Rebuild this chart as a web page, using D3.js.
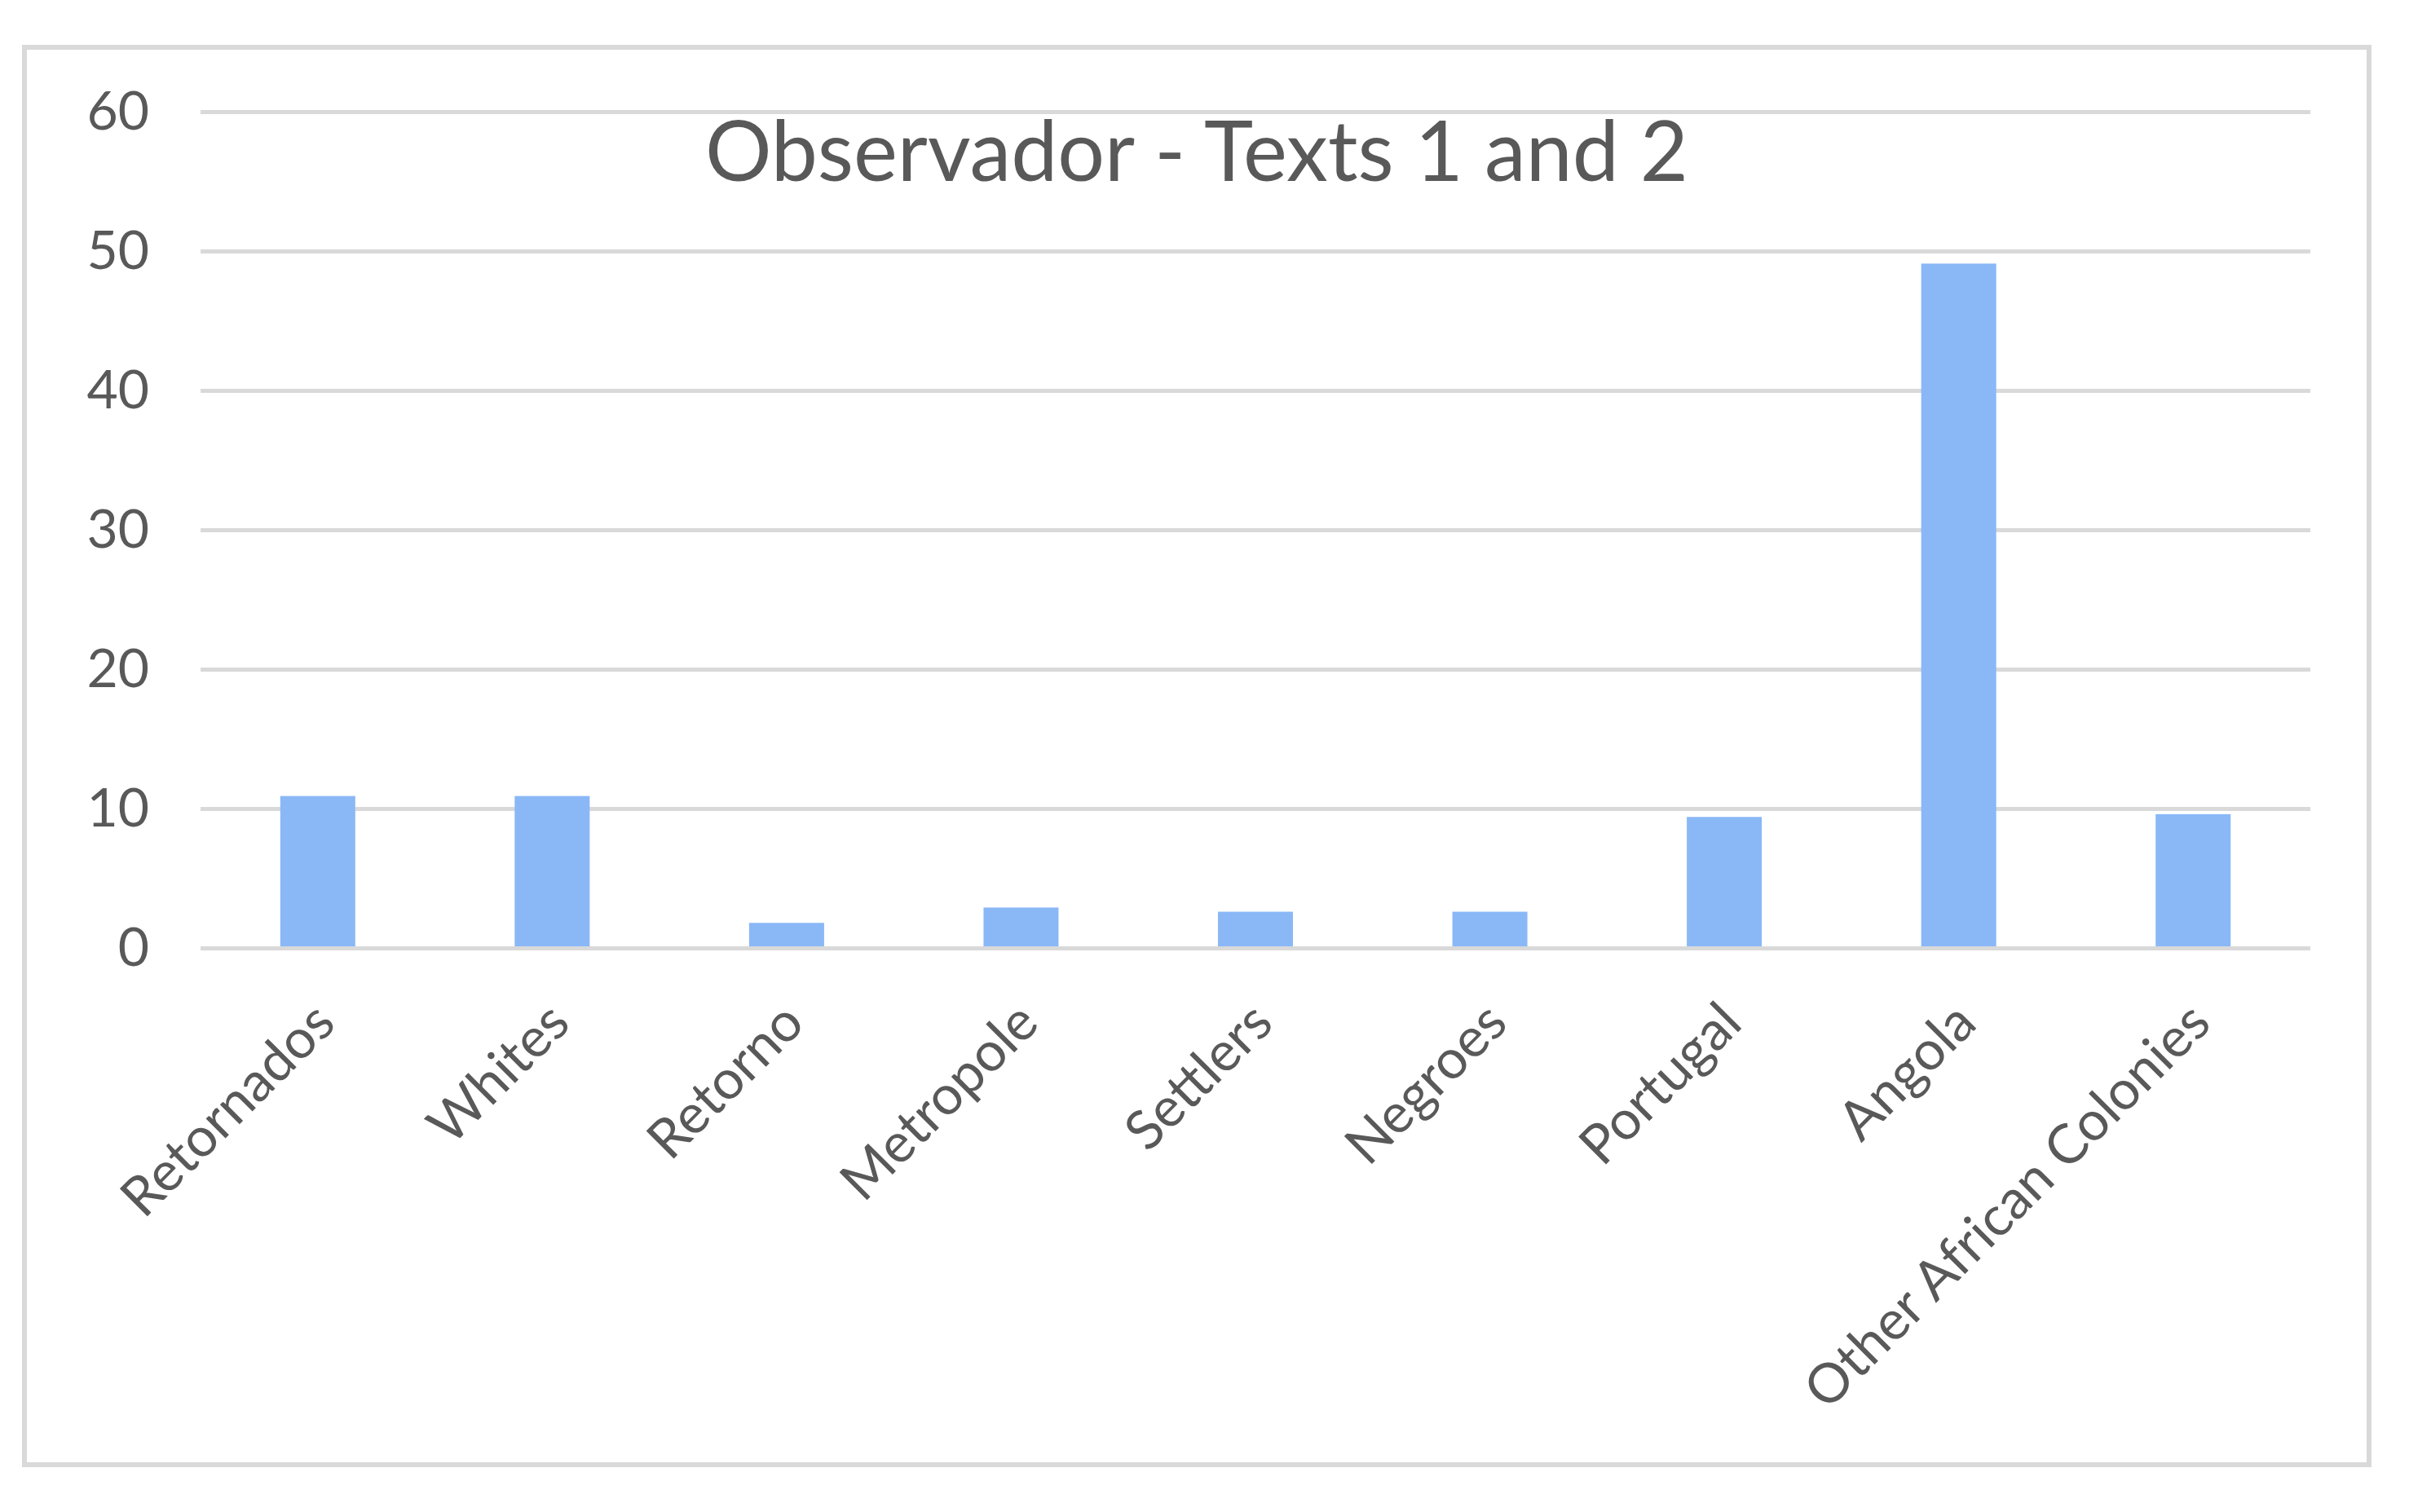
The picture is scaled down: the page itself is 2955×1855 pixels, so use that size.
<!DOCTYPE html>
<html>
<head>
<meta charset="utf-8">
<script src="https://cdn.jsdelivr.net/npm/d3@7"></script>
<style>
  html, body { margin: 0; padding: 0; background: #fff; }
  text { font-family: Lato, "Open Sans", sans-serif; fill: #595959; }
</style>
</head>
<body>
<svg id="chart" width="2955" height="1855"></svg>
<script>
// Werte
const categories = ["Retornados", "Whites", "Retorno", "Metropole", "Settlers", "Negroes", "Portugal", "Angola", "Other African Colonies"];
const values = [10.9, 10.9, 1.8, 2.9, 2.6, 2.6, 9.4, 49.1, 9.6];
const yTicks = [0, 10, 20, 30, 40, 50, 60];
const title = "Observador - Texts 1 and 2";

const svg = d3.select("#chart"),
  width = +svg.attr("width"),
  height = +svg.attr("height");

// Plotbereich
const plot = { left: 246, right: 2834, top: 137, bottom: 1163 };

const x = d3.scaleBand()
  .domain(categories)
  .range([plot.left, plot.right])
  .paddingInner(0.68)
  .paddingOuter(0.34);

const y = d3.scaleLinear()
  .domain([0, 60])
  .range([plot.bottom, plot.top]);

// Rahmen um das Diagramm
svg.append("rect")
  .attr("x", 30)
  .attr("y", 58)
  .attr("width", 2876)
  .attr("height", 1739)
  .attr("fill", "#fff")
  .attr("stroke", "#d9d9d9")
  .attr("stroke-width", 6);

// y-Achse mit Gitterlinien
const yAxis = svg.append("g")
  .attr("transform", `translate(${plot.left},0)`)
  .call(d3.axisLeft(y)
    .tickValues(yTicks)
    .tickSizeInner(-(plot.right - plot.left))
    .tickSizeOuter(0)
    .tickPadding(63));

yAxis.select(".domain").remove();
yAxis.selectAll("line")
  .attr("stroke", "#d9d9d9")
  .attr("stroke-width", 5);
yAxis.selectAll("text")
  .style("font-size", "66px")
  .attr("fill", "#595959");

// Balken
svg.append("g")
  .selectAll("rect")
  .data(values)
  .enter()
  .append("rect")
  .attr("x", (d, i) => x(categories[i]))
  .attr("y", d => y(d))
  .attr("width", x.bandwidth())
  .attr("height", d => y(0) - y(d) - 2)
  .attr("fill", "#8ab8f7");

// x-Achse Beschriftungen, 45 Grad gedreht
const xAxis = svg.append("g")
  .attr("transform", `translate(0,${plot.bottom})`)
  .call(d3.axisBottom(x).tickSize(0).tickPadding(0));

xAxis.select(".domain").remove();
xAxis.selectAll("text")
  .style("font-size", "67px")
  .attr("text-anchor", "end")
  .attr("dy", "0.35em")
  .attr("transform", "translate(8,79) rotate(-45)");

// Titel
svg.append("text")
  .attr("x", 1468)
  .attr("y", 222)
  .attr("text-anchor", "middle")
  .style("font-size", "102px")
  .text(title);
</script>
</body>
</html>
